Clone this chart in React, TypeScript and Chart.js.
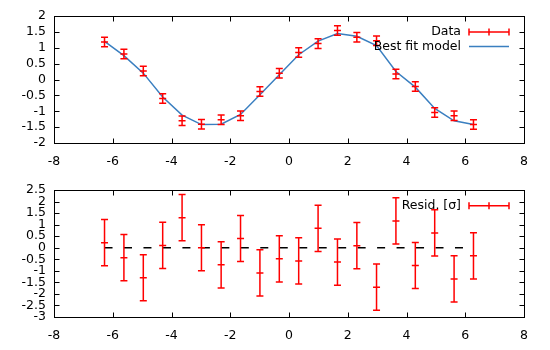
import React, { useEffect, useRef } from "react";
import { Chart, registerables } from "chart.js";

Chart.register(...registerables);

// ---------- data ----------
const xValues = [-6.28, -5.62, -4.96, -4.3, -3.64, -2.98, -2.31, -1.65, -0.99, -0.33, 0.33, 0.99, 1.65, 2.31, 2.98, 3.64, 4.3, 4.96, 5.62, 6.28];
const dataValues = [1.18, 0.8, 0.27, -0.6, -1.3, -1.41, -1.27, -1.14, -0.38, 0.2, 0.85, 1.13, 1.54, 1.33, 1.22, 0.17, -0.22, -1.04, -1.14, -1.42];
const dataErrors = [0.15, 0.15, 0.15, 0.15, 0.15, 0.15, 0.15, 0.15, 0.15, 0.15, 0.15, 0.15, 0.15, 0.15, 0.15, 0.15, 0.15, 0.15, 0.15, 0.15];
const modelValues = [1.2, 0.75, 0.2, -0.55, -1.12, -1.42, -1.41, -1.1, -0.48, 0.15, 0.78, 1.21, 1.45, 1.36, 1.07, 0.25, -0.24, -0.91, -1.3, -1.42];
const residValues = [0.22, -0.43, -1.3, 0.1, 1.3, 0.0, -0.74, 0.4, -1.09, -0.48, -0.57, 0.84, -0.62, 0.09, -1.71, 1.16, -0.77, 0.64, -1.35, -0.35];
const residErrors = [1, 1, 1, 1, 1, 1, 1, 1, 1, 1, 1, 1, 1, 1, 1, 1, 1, 1, 1, 1];
const zeroValues = [0, 0, 0, 0, 0, 0, 0, 0, 0, 0, 0, 0, 0, 0, 0, 0, 0, 0, 0, 0];

const xTicks = [-8, -6, -4, -2, 0, 2, 4, 6, 8];
const topYTicks = [-2, -1.5, -1, -0.5, 0, 0.5, 1, 1.5, 2];
const bottomYTicks = [-3, -2.5, -2, -1.5, -1, -0.5, 0, 0.5, 1, 1.5, 2, 2.5];

const topLegend = ["Data", "Best fit model"];
const bottomLegend = ["Resid. [σ]"];

// ---------- styles ----------
const RED = "#ff0000";
const BLUE = "#3a7fc0";
const FONT_FAMILY = "'DejaVu Sans', sans-serif";
const FONT_SIZE = 12.5;

type LegendItem = { label: string; kind: "err" | "line"; color: string };

function makePlugin(
  errValues: number[],
  errSizes: number[],
  yTicks: number[],
  legend: LegendItem[],
  legendTop: number
) {
  return {
    id: "gnuframe",
    afterDatasetsDraw(chart: any) {
      const ctx = chart.ctx as CanvasRenderingContext2D;
      const xs = chart.scales.x;
      const ys = chart.scales.y;
      const area = chart.chartArea;
      const cap = 3.5;

      // error bars
      ctx.save();
      ctx.strokeStyle = RED;
      ctx.lineWidth = 1.5;
      ctx.lineCap = "butt";
      for (let i = 0; i < xValues.length; i++) {
        const px = xs.getPixelForValue(xValues[i]);
        const pc = ys.getPixelForValue(errValues[i]);
        const pt = ys.getPixelForValue(errValues[i] + errSizes[i]);
        const pb = ys.getPixelForValue(errValues[i] - errSizes[i]);
        ctx.beginPath();
        ctx.moveTo(px, pt);
        ctx.lineTo(px, pb);
        ctx.moveTo(px - cap, pt);
        ctx.lineTo(px + cap, pt);
        ctx.moveTo(px - cap, pb);
        ctx.lineTo(px + cap, pb);
        ctx.moveTo(px - cap, pc);
        ctx.lineTo(px + cap, pc);
        ctx.stroke();
      }
      ctx.restore();

      // border
      ctx.save();
      ctx.strokeStyle = "#000";
      ctx.lineWidth = 1;
      const L = Math.round(area.left) + 0.5;
      const R = Math.round(area.right) + 0.5;
      const T = Math.round(area.top) + 0.5;
      const B = Math.round(area.bottom) + 0.5;
      ctx.strokeRect(L, T, R - L, B - T);
      // inward ticks
      const tl = 5;
      ctx.beginPath();
      for (const t of xs.ticks) {
        const px = Math.round(xs.getPixelForValue(t.value)) + 0.5;
        ctx.moveTo(px, B);
        ctx.lineTo(px, B - tl);
        ctx.moveTo(px, T);
        ctx.lineTo(px, T + tl);
      }
      for (const v of yTicks) {
        const py = Math.round(ys.getPixelForValue(v)) + 0.5;
        ctx.moveTo(L, py);
        ctx.lineTo(L + tl, py);
        ctx.moveTo(R, py);
        ctx.lineTo(R - tl, py);
      }
      ctx.stroke();

      // y tick labels
      ctx.font = `${FONT_SIZE}px ${FONT_FAMILY}`;
      ctx.fillStyle = "#000";
      ctx.textAlign = "right";
      ctx.textBaseline = "middle";
      for (const v of yTicks) {
        const py = ys.getPixelForValue(v);
        ctx.fillText(String(v), area.left - 8, py);
      }
      ctx.restore();

      // legend
      ctx.save();
      ctx.font = `${FONT_SIZE}px ${FONT_FAMILY}`;
      ctx.textAlign = "right";
      ctx.textBaseline = "middle";
      const textRight = 461;
      const s1 = 469;
      const s2 = 509;
      legend.forEach((item, k) => {
        const y = legendTop + k * 14.5;
        ctx.fillStyle = "#000";
        ctx.fillText(item.label, textRight, y);
        ctx.strokeStyle = item.color;
        ctx.lineWidth = 1.5;
        ctx.beginPath();
        ctx.moveTo(s1, y);
        ctx.lineTo(s2, y);
        if (item.kind === "err") {
          const m = (s1 + s2) / 2;
          ctx.moveTo(s1, y - cap);
          ctx.lineTo(s1, y + cap);
          ctx.moveTo(s2, y - cap);
          ctx.lineTo(s2, y + cap);
          ctx.moveTo(m, y - cap);
          ctx.lineTo(m, y + cap);
        }
        ctx.stroke();
      });
      ctx.restore();
    },
  };
}

function axisOptions(yTicks: number[], padTop: number, xHeight: number) {
  const tickFont = { family: FONT_FAMILY, size: FONT_SIZE };
  return {
    animation: false as const,
    responsive: false,
    maintainAspectRatio: false,
    events: [] as any[],
    layout: { padding: { top: padTop, right: 26, left: 0, bottom: 0 } },
    plugins: { legend: { display: false }, tooltip: { enabled: false } },
    scales: {
      x: {
        type: "linear" as const,
        min: xTicks[0],
        max: xTicks[xTicks.length - 1],
        grid: { display: false },
        border: { display: false },
        ticks: {
          color: "#000",
          font: tickFont,
          padding: 3,
          autoSkip: false,
          maxRotation: 0,
          callback: (v: any) => String(v),
        },
        afterBuildTicks: (s: any) => {
          s.ticks = xTicks.map((v) => ({ value: v }));
        },
        afterFit: (s: any) => {
          s.height = xHeight;
        },
      },
      y: {
        type: "linear" as const,
        min: yTicks[0],
        max: yTicks[yTicks.length - 1],
        grid: { display: false },
        border: { display: false },
        ticks: { display: false },
        afterFit: (s: any) => {
          s.width = 54;
        },
      },
    },
  };
}

export default function App() {
  const topRef = useRef<HTMLCanvasElement>(null);
  const botRef = useRef<HTMLCanvasElement>(null);

  useEffect(() => {
    const topChart = new Chart(topRef.current as HTMLCanvasElement, {
      type: "scatter",
      data: {
        datasets: [
          {
            label: topLegend[1],
            data: xValues.map((x, i) => ({ x, y: modelValues[i] })),
            showLine: true,
            borderColor: BLUE,
            borderWidth: 1.5,
            pointRadius: 0,
            tension: 0,
          },
          {
            label: topLegend[0],
            data: xValues.map((x, i) => ({ x, y: dataValues[i] })),
            showLine: false,
            pointRadius: 0,
          },
        ],
      },
      options: axisOptions(topYTicks, 16, 32) as any,
      plugins: [
        makePlugin(dataValues, dataErrors, topYTicks, [
          { label: topLegend[0], kind: "err", color: RED },
          { label: topLegend[1], kind: "line", color: BLUE },
        ], 32) as any,
      ],
    });

    const botChart = new Chart(botRef.current as HTMLCanvasElement, {
      type: "scatter",
      data: {
        datasets: [
          {
            label: "zero",
            data: xValues.map((x, i) => ({ x, y: zeroValues[i] })),
            showLine: true,
            borderColor: "#000",
            borderWidth: 1.5,
            borderDash: [8, 11.47],
            pointRadius: 0,
          },
          {
            label: bottomLegend[0],
            data: xValues.map((x, i) => ({ x, y: residValues[i] })),
            showLine: false,
            pointRadius: 0,
          },
        ],
      },
      options: axisOptions(bottomYTicks, 15, 33) as any,
      plugins: [
        makePlugin(residValues, residErrors, bottomYTicks, [
          { label: bottomLegend[0], kind: "err", color: RED },
        ], 30.7) as any,
      ],
    });

    return () => {
      topChart.destroy();
      botChart.destroy();
    };
  }, []);

  return (
    <div style={{ position: "absolute", left: 0, top: 0, width: 550, height: 350, background: "#fff" }}>
      <canvas ref={topRef} width={550} height={175} style={{ display: "block", position: "absolute", left: 0, top: 0 }} />
      <canvas ref={botRef} width={550} height={175} style={{ display: "block", position: "absolute", left: 0, top: 175 }} />
    </div>
  );
}
